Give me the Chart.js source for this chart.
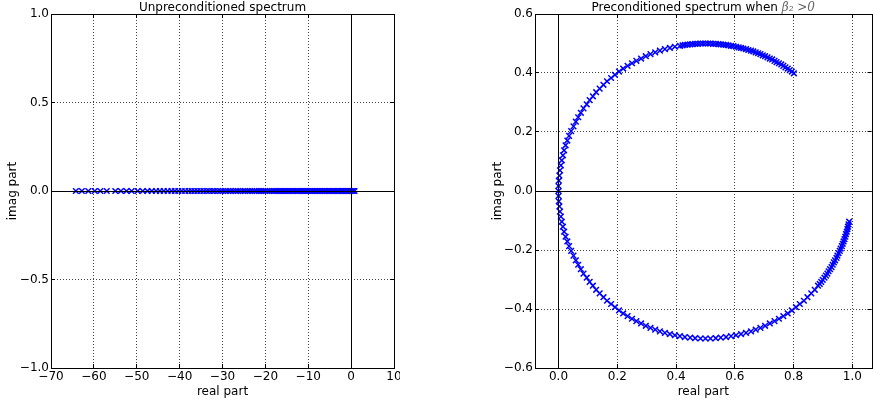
<!DOCTYPE html>
<html>
<head>
<meta charset="utf-8">
<script src="https://cdn.jsdelivr.net/npm/chart.js@4.4.1/dist/chart.umd.min.js"></script>
<style>
  body { margin: 0; background: #fff; overflow: hidden; }
  .wrap { position: absolute; top: 0; height: 402px; }
  #leftWrap { left: 0; width: 400px; }
  #rightWrap { left: 485px; width: 392px; }
</style>
</head>
<body>
<div class="wrap" id="leftWrap"><canvas id="leftChart"></canvas></div>
<div class="wrap" id="rightWrap"><canvas id="rightChart"></canvas></div>
<script>
// left: unpreconditioned eigenvalues (all real)
const leftReal = [-64.2, -62.8, -61.3, -59.8, -58.5, -57.0, -55.0, -53.7, -52.4, -51.2,
  -49.8, -48.6, -47.5, -46.5, -45.5, -44.6, -43.7, -42.8, -41.9, -41.1, -40.3, -39.5,
  -38.7, -37.9, -37.2, -36.5, -35.8, -35.1, -34.4, -33.7, -33.1, -32.4, -31.8, -31.1,
  -30.5, -29.9, -29.3, -28.7, -28.1, -27.5, -26.9, -26.4, -25.8, -25.2, -24.7, -24.1,
  -23.6, -23.1, -22.5, -22.0, -21.5, -21.0, -20.5, -20.0, -19.5, -19.0, -18.5, -18.0,
  -17.5, -17.0, -16.6, -16.1, -15.6, -15.2, -14.7, -14.3, -13.8, -13.4, -12.9, -12.5,
  -12.1, -11.6, -11.2, -10.8, -10.4, -10.0, -9.6, -9.2, -8.8, -8.4, -8.0, -7.6, -7.2,
  -6.8, -6.4, -6.1, -5.7, -5.3, -5.0, -4.6, -4.2, -3.9, -3.5, -3.2, -2.9, -2.5, -2.2,
  -1.9, -1.6, -1.3, -1.0, -0.7, -0.4, -0.1, 0.2, 0.5, 0.8];
const leftImag = leftReal.map(() => 0);
const leftXTicks = [-70, -60, -50, -40, -30, -20, -10, 0, 10];
const leftYTicks = [-1.0, -0.5, 0.0, 0.5, 1.0];

const precReal = [
  0.801, 0.794, 0.787, 0.780, 0.772, 0.765, 0.758, 0.750, 0.742, 0.735,
  0.727, 0.719, 0.711, 0.703, 0.695, 0.687, 0.679, 0.671, 0.663, 0.655,
  0.646, 0.638, 0.629, 0.621, 0.613, 0.604, 0.595, 0.587, 0.578, 0.570,
  0.561, 0.552, 0.544, 0.535, 0.526, 0.517, 0.509, 0.500, 0.491, 0.483,
  0.474, 0.465, 0.456, 0.448, 0.439, 0.430, 0.422, 0.413,
  0.396, 0.379, 0.362, 0.345, 0.329, 0.313, 0.297, 0.281, 0.265, 0.250,
  0.235, 0.220, 0.206, 0.192, 0.179, 0.165, 0.153, 0.140, 0.128, 0.117,
  0.106, 0.096, 0.085, 0.076, 0.067, 0.059, 0.051, 0.043, 0.036, 0.030,
  0.024, 0.019, 0.015, 0.011, 0.008, 0.005, 0.003, 0.001, 0.000, 0.000,
  0.000, 0.001, 0.003, 0.005, 0.008, 0.011, 0.015, 0.019, 0.024, 0.030,
  0.036, 0.043, 0.051, 0.059, 0.067, 0.076, 0.085, 0.096, 0.106, 0.117,
  0.128, 0.140, 0.153, 0.165, 0.179, 0.192, 0.206, 0.220, 0.235, 0.250,
  0.265, 0.281, 0.297, 0.313, 0.329, 0.345, 0.362, 0.379, 0.396, 0.413,
  0.430, 0.448, 0.465, 0.483, 0.500, 0.517, 0.535, 0.552, 0.570, 0.587,
  0.604, 0.621, 0.638, 0.655, 0.671,
  0.687, 0.703, 0.719, 0.735, 0.750, 0.765, 0.780, 0.794, 0.808, 0.821,
  0.835, 0.847, 0.860, 0.872,
  0.883, 0.889, 0.894, 0.899, 0.905, 0.910, 0.915, 0.919, 0.924, 0.929,
  0.933, 0.937, 0.941, 0.946, 0.949, 0.953, 0.957, 0.960, 0.964, 0.967,
  0.970, 0.973, 0.976, 0.978, 0.981, 0.983, 0.985, 0.987, 0.989];
const precImag = [
  0.399, 0.405, 0.410, 0.415, 0.419, 0.424, 0.429, 0.433, 0.437, 0.441,
  0.446, 0.449, 0.453, 0.457, 0.460, 0.464, 0.467, 0.470, 0.473, 0.476,
  0.478, 0.481, 0.483, 0.485, 0.487, 0.489, 0.491, 0.492, 0.494, 0.495,
  0.496, 0.497, 0.498, 0.499, 0.499, 0.500, 0.500, 0.500, 0.500, 0.500,
  0.499, 0.499, 0.498, 0.497, 0.496, 0.495, 0.494, 0.492,
  0.489, 0.485, 0.481, 0.476, 0.470, 0.464, 0.457, 0.449, 0.441, 0.433,
  0.424, 0.415, 0.405, 0.394, 0.383, 0.372, 0.360, 0.347, 0.335, 0.321,
  0.308, 0.294, 0.280, 0.265, 0.250, 0.235, 0.219, 0.203, 0.187, 0.171,
  0.155, 0.138, 0.121, 0.104, 0.087, 0.070, 0.052, 0.035, 0.017, 0.000,
  -0.017, -0.035, -0.052, -0.070, -0.087, -0.104, -0.121, -0.138, -0.155, -0.171,
  -0.187, -0.203, -0.219, -0.235, -0.250, -0.265, -0.280, -0.294, -0.308, -0.321,
  -0.335, -0.347, -0.360, -0.372, -0.383, -0.394, -0.405, -0.415, -0.424, -0.433,
  -0.441, -0.449, -0.457, -0.464, -0.470, -0.476, -0.481, -0.485, -0.489, -0.492,
  -0.495, -0.497, -0.499, -0.500, -0.500, -0.500, -0.499, -0.497, -0.495, -0.492,
  -0.489, -0.485, -0.481, -0.476, -0.470,
  -0.464, -0.457, -0.449, -0.441, -0.433, -0.424, -0.415, -0.405, -0.394, -0.383,
  -0.372, -0.360, -0.347, -0.335,
  -0.321, -0.315, -0.308, -0.301, -0.294, -0.287, -0.280, -0.272, -0.265, -0.258,
  -0.250, -0.242, -0.235, -0.227, -0.219, -0.211, -0.203, -0.195, -0.187, -0.179,
  -0.171, -0.163, -0.155, -0.146, -0.138, -0.129, -0.121, -0.113, -0.104];
const rightXTicks = [0.0, 0.2, 0.4, 0.6, 0.8, 1.0];
const rightYTicks = [-0.6, -0.4, -0.2, 0.0, 0.2, 0.4, 0.6];

const FONT = "'DejaVu Sans', sans-serif";
const minus = (s) => s.replace('-', '\u2212');
// same pixel snapping chart.js uses for 1px grid lines
const snap = (p) => Math.round(p - 0.5) + 0.5;

// frame, inward ticks, zero lines and title
const mplPlugin = {
  id: 'mpl',
  afterDatasetsDraw(chart, args, opts) {
    const { ctx, chartArea: a, scales } = chart;
    const xs = scales.x, ys = scales.y;
    ctx.save();
    ctx.strokeStyle = '#000';
    ctx.lineWidth = 1;
    // zero lines
    ctx.beginPath();
    const x0 = snap(xs.getPixelForValue(0));
    const y0 = snap(ys.getPixelForValue(0));
    ctx.moveTo(x0, a.top); ctx.lineTo(x0, a.bottom);
    ctx.moveTo(a.left, y0); ctx.lineTo(a.right, y0);
    ctx.stroke();
    // inward tick marks on all sides
    ctx.beginPath();
    xs.ticks.forEach(t => {
      const px = snap(xs.getPixelForValue(t.value));
      ctx.moveTo(px, a.bottom); ctx.lineTo(px, a.bottom - 4);
      ctx.moveTo(px, a.top); ctx.lineTo(px, a.top + 4);
    });
    ys.ticks.forEach(t => {
      const py = snap(ys.getPixelForValue(t.value));
      ctx.moveTo(a.left, py); ctx.lineTo(a.left + 4, py);
      ctx.moveTo(a.right, py); ctx.lineTo(a.right - 4, py);
    });
    ctx.stroke();
    // frame
    ctx.strokeRect(snap(a.left), snap(a.top),
      Math.round(a.right - a.left), Math.round(a.bottom - a.top));
    // title
    const cx = (a.left + a.right) / 2;
    const ty = a.top - 3;
    ctx.font = '12px ' + FONT;
    const w1 = ctx.measureText(opts.title).width;
    let w2 = 0;
    if (opts.math) {
      ctx.font = 'italic 12px "DejaVu Serif", serif';
      w2 = ctx.measureText(opts.math).width;
    }
    const sx = cx - (w1 + w2) / 2;
    ctx.textAlign = 'left';
    ctx.textBaseline = 'alphabetic';
    ctx.fillStyle = '#000';
    ctx.font = '12px ' + FONT;
    ctx.fillText(opts.title, sx, ty);
    if (opts.math) {
      ctx.fillStyle = '#666';
      ctx.font = 'italic 12px "DejaVu Serif", serif';
      ctx.fillText(opts.math, sx + w1, ty);
    }
    ctx.restore();
  }
};

function makeChart(id, re, im, xr, yr, xTicks, yTicks, xFmt, yFmt, yWidth, padRight, title, math) {
  return new Chart(document.getElementById(id).getContext('2d'), {
    type: 'scatter',
    data: {
      datasets: [{
        data: re.map((v, i) => ({ x: v, y: im[i] })),
        pointStyle: 'crossRot',
        pointRadius: 4,
        pointBorderWidth: 1.5,
        borderColor: '#0000ff',
        backgroundColor: '#0000ff',
      }],
    },
    options: {
      responsive: true,
      maintainAspectRatio: false,
      animation: false,
      events: [],
      layout: { padding: { top: 14, right: padRight, bottom: 0, left: 0 } },
      plugins: { legend: { display: false }, tooltip: { enabled: false }, mpl: { title, math } },
      scales: {
        x: {
          type: 'linear', min: xr[0], max: xr[1],
          afterBuildTicks: (s) => { s.ticks = xTicks.map(v => ({ value: v })); },
          afterFit: (s) => { s.height = 34; s.paddingLeft = 0; s.paddingRight = 0; },
          ticks: { callback: xFmt, color: '#000', font: { family: FONT, size: 12 }, padding: 2, maxRotation: 0, autoSkip: false },
          grid: { color: '#444', drawTicks: false, lineWidth: 1 },
          border: { display: false, dash: [1, 2] },
          title: { display: true, text: 'real part', color: '#000', font: { family: FONT, size: 12 }, padding: { top: 0, bottom: 3 } },
        },
        y: {
          type: 'linear', min: yr[0], max: yr[1],
          afterBuildTicks: (s) => { s.ticks = yTicks.map(v => ({ value: v })); },
          afterFit: (s) => { s.width = yWidth; s.paddingTop = 0; s.paddingBottom = 0; },
          ticks: { callback: yFmt, color: '#000', font: { family: FONT, size: 12 }, padding: 2, autoSkip: false },
          grid: { color: '#444', drawTicks: false, lineWidth: 1 },
          border: { display: false, dash: [1, 2] },
          title: { display: true, text: 'imag part', color: '#000', font: { family: FONT, size: 12 }, padding: { top: 6, bottom: 0 } },
        },
      },
    },
    plugins: [mplPlugin],
  });
}

makeChart('leftChart', leftReal, leftImag, [-70, 10], [-1, 1], leftXTicks, leftYTicks,
  (v) => minus(String(v)), (v) => minus(v.toFixed(1)), 51, 6, 'Unpreconditioned spectrum', null);

makeChart('rightChart', precReal, precImag, [-0.08, 1.065], [-0.6, 0.6], rightXTicks, rightYTicks,
  (v) => minus(v.toFixed(1)), (v) => minus(v.toFixed(1)), 50, 1, 'Preconditioned spectrum when ', '\u03B2\u2082 >0');
</script>
</body>
</html>
